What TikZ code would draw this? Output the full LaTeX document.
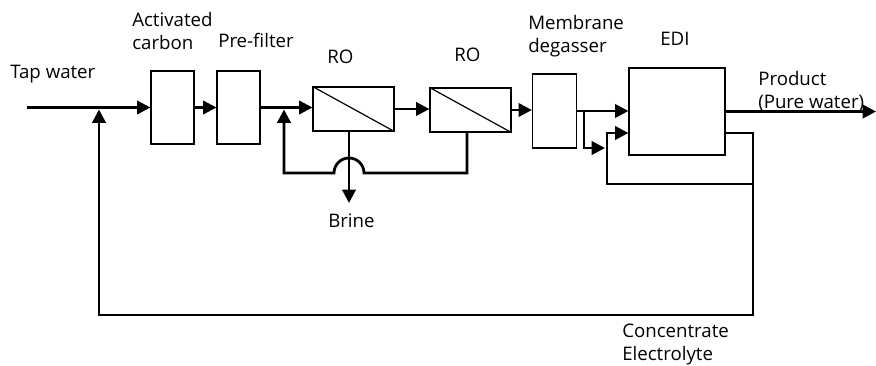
\documentclass[tikz,border=0pt]{standalone}
\usepackage{fontspec}
\setmainfont{Open Sans}
\usetikzlibrary{arrows.meta}
\begin{document}
\begin{tikzpicture}[x=0.75pt,y=-0.75pt,
  box/.style={draw,line width=0.9pt,inner sep=0pt},
  diag/.style={line width=0.9pt},
  pipe/.style={line width=2.1pt},
  flow/.style={pipe,-{Triangle[length=10pt,width=10pt]}},
  lbl/.style={font=\fontsize{14}{17.25}\selectfont,inner sep=0pt,align=left,anchor=base west}]
\useasboundingbox (0,0) rectangle (876,365);
% boxes
\node[box,minimum width=32.25pt,minimum height=54.75pt] (ac) at (172.5,107.5) {};
\node[box,minimum width=32.25pt,minimum height=54.75pt] (pf) at (238.5,107.5) {};
\node[box,minimum width=60.75pt,minimum height=33pt] (ro1) at (353.5,109) {};
\node[box,minimum width=60.75pt,minimum height=33pt] (ro2) at (470.5,110) {};
\node[box,minimum width=33pt,minimum height=55.5pt] (mdg) at (554.5,111) {};
\node[box,minimum width=72pt,minimum height=65.25pt] (edi) at (677,111.5) {};
\draw[diag] (ro1.north west) -- (ro1.south east);
\draw[diag] (ro2.north west) -- (ro2.south east);
% coordinates
\coordinate (tapin) at (27,107.5);
\coordinate (j1) at (99,109.5);
\coordinate (loopbr) at (753,315);
\coordinate (j2) at (284,109.5);
\coordinate (rx) at (467,173);
\coordinate (brx) at (349,173);
\coordinate (brend) at (349,203);
\coordinate (j3) at (584,111);
\coordinate (b1) at (605,148);
\coordinate (v1t) at (607,133);
\coordinate (v1b) at (607,184);
\coordinate (r1) at (753,184);
\coordinate (prod) at (876,111.5);
% main flow
\draw[flow] (tapin) -- (ac.west);
\draw[flow] (ac.east) -- (pf.west);
\draw[flow] (pf.east) -- (pf.east -| ro1.west);
\draw[flow] (ro1.east) -- (ro1.east -| ro2.west);
\draw[flow] (ro2.east) -- (ro2.east -| mdg.west);
\draw[flow] (mdg.east |- j3) -- (j3 -| edi.west);
\draw[flow] (j3) |- (b1);
\draw[flow] (r1) -- (v1b) -- (v1t) -- (v1t -| edi.west);
\draw[flow] (edi.east |- prod) -- (prod);
% concentrate loop
\draw[flow] (edi.east |- v1t) -| (loopbr) -| (j1);
% RO recycle with hop
\draw[flow] (ro2.south -| rx) -- (rx) -- ([xshift=11.25pt]brx) arc[start angle=0,end angle=180,radius=11.25pt] -- (j2 |- brx) -- (j2);
% brine
\draw[flow] (ro1.south -| brx) -- (brend);
% labels
\node[lbl] (tapl) at (10,78) {Tap water};
\node[lbl] (acl) at (132,49) {Activated\\carbon};
\node[lbl] (pfl) at (218,47) {Pre-filter};
\node[lbl] (ro1l) at (327,63) {RO};
\node[lbl] (ro2l) at (454,61) {RO};
\node[lbl] (mdgl) at (528,52) {Membrane\\degasser};
\node[lbl] (edil) at (660,45) {EDI};
\node[lbl] (prodl) at (758,108) {Product\\(Pure water)};
\node[lbl] (brl) at (328,227) {Brine};
\node[lbl] (conl) at (622,360) {Concentrate\\Electrolyte};
\end{tikzpicture}
\end{document}
